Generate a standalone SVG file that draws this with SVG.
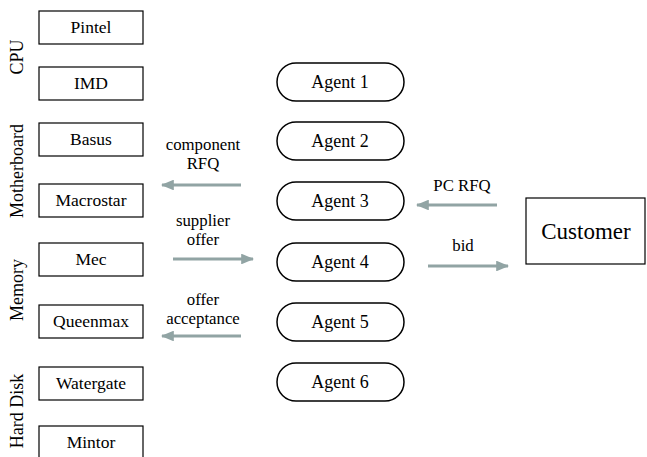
<svg xmlns="http://www.w3.org/2000/svg" width="647" height="457" viewBox="0 0 647 457" font-family="'Liberation Serif', 'DejaVu Serif', serif">
<style>
.box{fill:#fff;stroke:#000;stroke-width:1.2}
.pill{fill:#fff;stroke:#000;stroke-width:1.5}
text{font-family:'Liberation Serif','DejaVu Serif',serif;font-size:17.5px;fill:#000;text-anchor:middle}
.lbl{font-size:16.8px}
.grp{font-size:18px}
.ag{font-size:18px}
.cust{font-size:23px}
.arr{stroke:#91a4a4;stroke-width:3;fill:none;marker-end:url(#ah)}
</style>
<defs>
<marker id="ah" viewBox="0 0 12 10" refX="11" refY="5" markerWidth="4.3" markerHeight="3.6" orient="auto" markerUnits="strokeWidth">
<path d="M0,0 L12,5 L0,10 Z" fill="#91a4a4"/>
</marker>
</defs>
<rect width="647" height="457" fill="#fff"/>
<g id="groups">
<text class="grp" transform="translate(23,57) rotate(-90)">CPU</text>
<text class="grp" transform="translate(23,171) rotate(-90)">Motherboard</text>
<text class="grp" transform="translate(23,290) rotate(-90)">Memory</text>
<text class="grp" transform="translate(23,411) rotate(-90)">Hard Disk</text>
</g>
<g id="pintel"><rect class="box" x="39" y="11" width="104" height="33"/><text x="91" y="33">Pintel</text></g>
<g id="imd"><rect class="box" x="39" y="67" width="104" height="33"/><text x="91" y="89">IMD</text></g>
<g id="basus"><rect class="box" x="39" y="123" width="104" height="33"/><text x="91" y="145">Basus</text></g>
<g id="macrostar"><rect class="box" x="39" y="184" width="104" height="33"/><text x="91" y="206">Macrostar</text></g>
<g id="mec"><rect class="box" x="39" y="243" width="104" height="33"/><text x="91" y="265">Mec</text></g>
<g id="queenmax"><rect class="box" x="39" y="305" width="104" height="33"/><text x="91" y="327">Queenmax</text></g>
<g id="watergate"><rect class="box" x="39" y="367" width="104" height="33"/><text x="91" y="389">Watergate</text></g>
<g id="mintor"><rect class="box" x="39" y="426" width="104" height="36"/><text x="91" y="448">Mintor</text></g>
<g id="agent1"><rect class="pill" x="277" y="63" width="127" height="38" rx="19"/><text class="ag" x="340" y="88">Agent 1</text></g>
<g id="agent2"><rect class="pill" x="277" y="122" width="127" height="38" rx="19"/><text class="ag" x="340" y="147">Agent 2</text></g>
<g id="agent3"><rect class="pill" x="277" y="182" width="127" height="38" rx="19"/><text class="ag" x="340" y="207">Agent 3</text></g>
<g id="agent4"><rect class="pill" x="277" y="243" width="127" height="38" rx="19"/><text class="ag" x="340" y="268">Agent 4</text></g>
<g id="agent5"><rect class="pill" x="277" y="303" width="127" height="38" rx="19"/><text class="ag" x="340" y="328">Agent 5</text></g>
<g id="agent6"><rect class="pill" x="277" y="363" width="127" height="38" rx="19"/><text class="ag" x="340" y="388">Agent 6</text></g>
<g id="customer"><rect class="box" x="526" y="198" width="119" height="66"/><text class="cust" x="586" y="239">Customer</text></g>
<g id="connectors">
<line class="arr" x1="241" y1="185" x2="162" y2="185"/>
<line class="arr" x1="173" y1="259" x2="253" y2="259"/>
<line class="arr" x1="241" y1="336" x2="162" y2="336"/>
<line class="arr" x1="497" y1="205" x2="417" y2="205"/>
<line class="arr" x1="428" y1="266" x2="508" y2="266"/>
</g>
<g id="labels">
<text class="lbl" x="203" y="150">component</text>
<text class="lbl" x="203" y="169">RFQ</text>
<text class="lbl" x="203" y="226">supplier</text>
<text class="lbl" x="203" y="245">offer</text>
<text class="lbl" x="203" y="305">offer</text>
<text class="lbl" x="203" y="324">acceptance</text>
<text class="lbl" x="462" y="191">PC RFQ</text>
<text class="lbl" x="463" y="251">bid</text>
</g>
</svg>
